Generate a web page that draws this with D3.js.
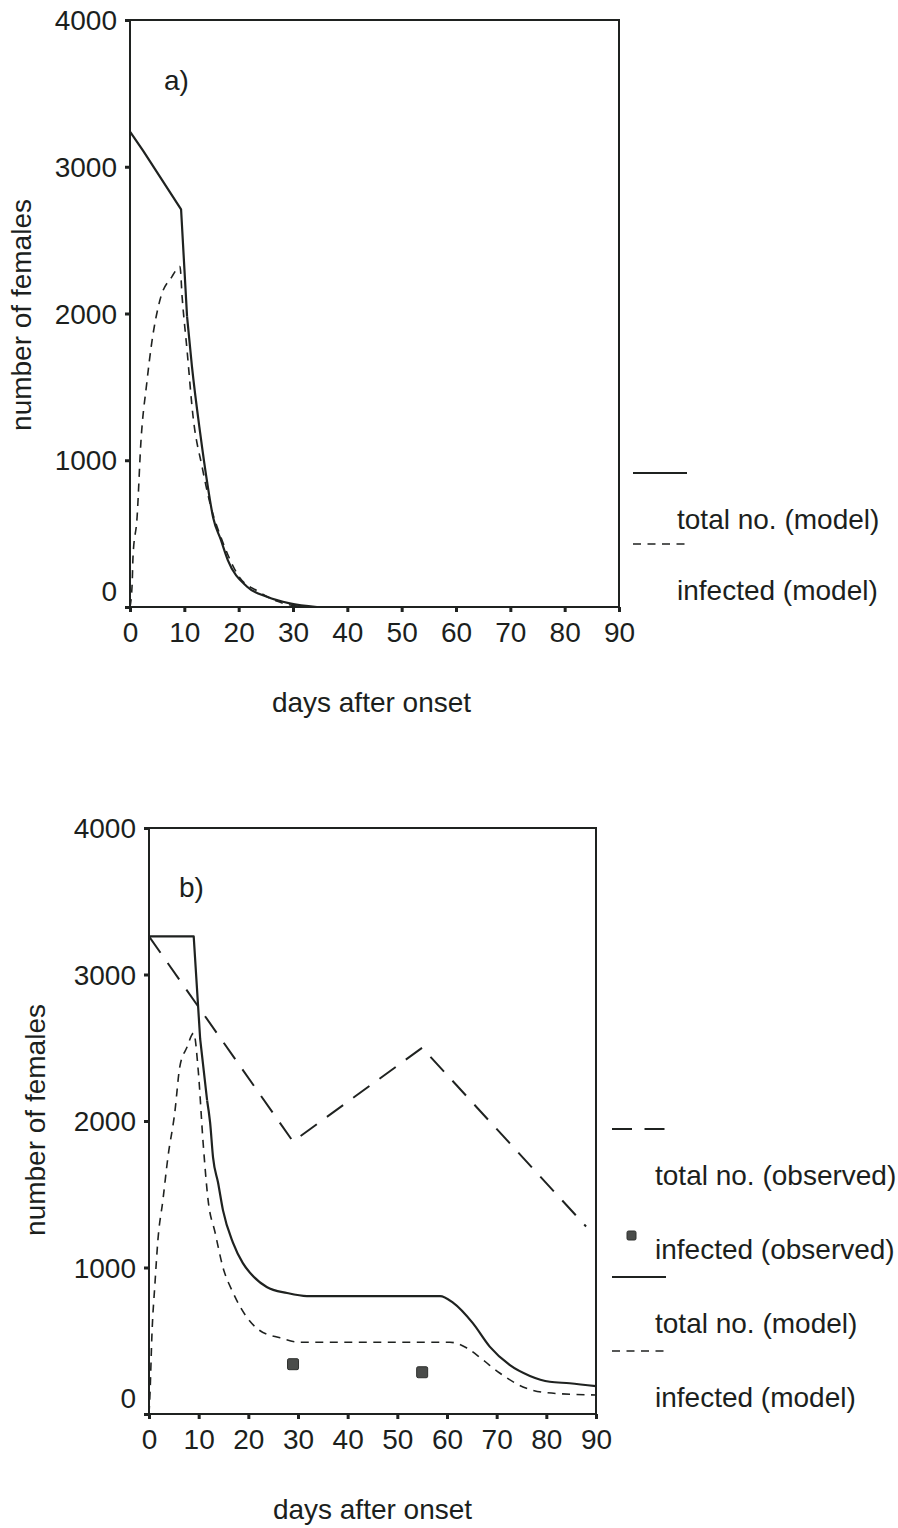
<!DOCTYPE html>
<html>
<head>
<meta charset="utf-8">
<script src="https://cdn.jsdelivr.net/npm/d3@7"></script>
<style>
  html, body { margin: 0; padding: 0; background: #ffffff; }
  svg { display: block; }
  text { font-family: "Liberation Sans", Arial, Helvetica, sans-serif; fill: #1c1f1d; }
</style>
</head>
<body>
<svg id="chart" width="898" height="1528"></svg>
<script>
// ---- shared axis settings ----
const xTicks = [0, 10, 20, 30, 40, 50, 60, 70, 80, 90];
const yTicks = [0, 1000, 2000, 3000, 4000];
const xTitle = "days after onset";
const yTitle = "number of females";

// ---- panel a: model only ----
const aTotalModelDays = [0, 2.4, 9.4, 10.5, 11.4, 12.9, 14.2, 15.3, 16.7, 18.0, 21.5, 25.2, 29.4, 34.4];
const aTotalModel     = [3240, 3110, 2710, 1980, 1640, 1190, 850, 610, 460, 320, 140, 70, 25, 0];
const aInfectedModelDays = [0, 0.4, 0.55, 1.3, 2.0, 3.1, 4.0, 5.5, 7.7, 9.2, 9.6, 10.5, 11.6, 13.3, 14.7, 17.1, 20.2, 23.4, 27, 32];
const aInfectedModel     = [0, 160, 340, 610, 1120, 1530, 1800, 2090, 2250, 2320, 2110, 1750, 1300, 950, 710, 440, 200, 110, 40, 0];

// ---- panel b: model and field observations ----
const bTotalModelDays = [0, 9.0, 10.3, 11.7, 12.3, 12.9, 13.9, 14.9, 16.9, 18.9, 20.7, 23.7, 27.8, 31.8, 58.6, 61.2, 65.2, 68.6, 72.6, 76.7, 80.7, 84.7, 90];
const bTotalModel     = [3260, 3260, 2560, 2140, 1990, 1750, 1580, 1390, 1170, 1030, 950, 867, 826, 805, 805, 760, 620, 460, 335, 260, 220, 210, 190];
const bInfectedModelDays = [0, 0.2, 0.6, 1.2, 1.8, 2.8, 3.8, 5.2, 6.2, 7.6, 9.0, 9.9, 10.9, 11.9, 13.3, 14.9, 16.9, 19.7, 22.3, 26.4, 30.4, 60.6, 64.0, 67.2, 70.6, 75.3, 80.1, 90];
const bInfectedModel     = [0, 140, 550, 890, 1190, 1460, 1750, 2060, 2370, 2500, 2600, 2350, 1850, 1460, 1240, 1000, 830, 660, 570, 520, 490, 490, 450, 370, 280, 185, 145, 130];
const bObservedDays     = [0, 29, 55, 88];
const bTotalObserved    = [3260, 1860, 2500, 1280];
const bInfectedObsDays  = [29, 55];
const bInfectedObserved = [340, 285];

// ---- legend labels ----
const legendA = ["total no. (model)", "infected (model)"];
const legendB = ["total no. (observed)", "infected (observed)", "total no. (model)", "infected (model)"];

const INK = "#1f2220";
const styles = {
  totalModel:    { dash: null,      width: 2.2 },
  infectedModel: { dash: "8,6.5",   width: 1.6 },
  totalObserved: { dash: "20,12.5", width: 2.0 }
};

const svg = d3.select("#chart");
const FONT = 28;

function zip(xs, ys) { return xs.map((d, i) => [d, ys[i]]); }

function drawPanel(cfg) {
  const g = svg.append("g");
  const x = d3.scaleLinear().domain([0, 90]).range([cfg.left, cfg.right]);
  const y = d3.scaleLinear().domain([0, 4000]).range([cfg.bottom, cfg.top]);

  // frame
  g.append("rect")
    .attr("x", cfg.left).attr("y", cfg.top)
    .attr("width", cfg.right - cfg.left).attr("height", cfg.bottom - cfg.top)
    .attr("fill", "none").attr("stroke", INK).attr("stroke-width", 2);

  // y axis
  const ya = g.append("g").attr("transform", `translate(${cfg.left},0)`)
    .call(d3.axisLeft(y).tickValues(yTicks).tickFormat(d3.format("d"))
      .tickSize(5).tickSizeOuter(0).tickPadding(8));
  ya.select(".domain").remove();
  ya.selectAll(".tick line").attr("stroke", INK).attr("stroke-width", 3);
  ya.selectAll(".tick text")
    .attr("font-size", FONT).attr("fill", INK)
    .attr("dy", d => d === 0 ? "-0.24em" : "0.34em");

  // x axis
  const xa = g.append("g").attr("transform", `translate(0,${cfg.bottom})`)
    .call(d3.axisBottom(x).tickValues(xTicks).tickFormat(d3.format("d"))
      .tickSize(5).tickSizeOuter(0).tickPadding(10));
  xa.select(".domain").remove();
  xa.selectAll(".tick line").attr("stroke", INK).attr("stroke-width", 3);
  xa.selectAll(".tick text").attr("font-size", FONT).attr("fill", INK);

  // axis titles
  g.append("text")
    .attr("x", (cfg.left + cfg.right) / 2 + cfg.xTitleDx).attr("y", cfg.xTitleY)
    .attr("text-anchor", "middle").attr("font-size", FONT).text(xTitle);
  g.append("text")
    .attr("transform", `translate(${cfg.yTitleX},${cfg.yTitleY}) rotate(-90)`)
    .attr("text-anchor", "middle").attr("font-size", FONT).text(yTitle);

  // panel tag
  g.append("text").attr("x", cfg.tagX).attr("y", cfg.tagY)
    .attr("font-size", FONT).text(cfg.tag);

  // curves: straight segments up to `sharp` index, smooth afterwards
  const linear = d3.line().x(d => x(d[0])).y(d => y(d[1])).curve(d3.curveLinear);
  const smooth = d3.line().x(d => x(d[0])).y(d => y(d[1])).curve(d3.curveMonotoneX);
  cfg.series.forEach(s => {
    const st = styles[s.style];
    const parts = [];
    if (s.sharp === undefined) {
      parts.push([s.smooth ? smooth : linear, s.data]);
    } else {
      parts.push([linear, s.data.slice(0, s.sharp + 1)]);
      parts.push([smooth, s.data.slice(s.sharp)]);
    }
    parts.forEach(([gen, pts]) => {
      g.append("path").datum(pts)
        .attr("d", gen)
        .attr("fill", "none").attr("stroke", INK)
        .attr("stroke-width", st.width)
        .attr("stroke-dasharray", st.dash)
        .attr("stroke-linejoin", "round");
    });
  });

  if (cfg.points) {
    g.selectAll("rect.obs").data(cfg.points).join("rect").attr("class", "obs")
      .attr("x", d => x(d[0]) - 5.5).attr("y", d => y(d[1]) - 5.5)
      .attr("width", 11).attr("height", 11).attr("rx", 1.5)
      .attr("fill", "#4a4c4a").attr("stroke", "#2e302e").attr("stroke-width", 1);
  }

  // legend
  const lg = g.append("g");
  cfg.legend.forEach((item, i) => {
    const ty = cfg.legendY + i * cfg.legendStep;
    lg.append("text").attr("x", cfg.legendTextX).attr("y", ty)
      .attr("dy", "0.35em").attr("font-size", FONT).text(item.label);
    if (item.kind === "marker") {
      lg.append("rect")
        .attr("x", cfg.legendSymX + 15).attr("y", ty - 18)
        .attr("width", 9).attr("height", 9).attr("rx", 1.5)
        .attr("fill", "#4a4c4a").attr("stroke", "#2e302e").attr("stroke-width", 1);
    } else {
      const st = styles[item.kind];
      lg.append("line")
        .attr("x1", cfg.legendSymX).attr("x2", cfg.legendSymX + 54)
        .attr("y1", ty - 46).attr("y2", ty - 46)
        .attr("stroke", INK).attr("stroke-width", st.width)
        .attr("stroke-dasharray", st.dash);
    }
  });
}

drawPanel({
  left: 130, right: 619, top: 20, bottom: 607,
  xTitleY: 712, xTitleDx: -3, yTitleX: 31, yTitleY: 315,
  tag: "a)", tagX: 164, tagY: 90,
  series: [
    { style: "totalModel",    data: zip(aTotalModelDays, aTotalModel), sharp: 3 },
    { style: "infectedModel", data: zip(aInfectedModelDays, aInfectedModel), smooth: true }
  ],
  legend: [
    { label: legendA[0], kind: "totalModel" },
    { label: legendA[1], kind: "infectedModel" }
  ],
  legendY: 519, legendStep: 71, legendTextX: 677, legendSymX: 633
});

drawPanel({
  left: 149, right: 596, top: 828, bottom: 1414,
  xTitleY: 1519, xTitleDx: 0, yTitleX: 45, yTitleY: 1120,
  tag: "b)", tagX: 179, tagY: 897,
  series: [
    { style: "totalObserved", data: zip(bObservedDays, bTotalObserved) },
    { style: "totalModel",    data: zip(bTotalModelDays, bTotalModel), sharp: 3 },
    { style: "infectedModel", data: zip(bInfectedModelDays, bInfectedModel), smooth: true }
  ],
  points: zip(bInfectedObsDays, bInfectedObserved),
  legend: [
    { label: legendB[0], kind: "totalObserved" },
    { label: legendB[1], kind: "marker" },
    { label: legendB[2], kind: "totalModel" },
    { label: legendB[3], kind: "infectedModel" }
  ],
  legendY: 1175, legendStep: 74, legendTextX: 655, legendSymX: 612
});
</script>
</body>
</html>
